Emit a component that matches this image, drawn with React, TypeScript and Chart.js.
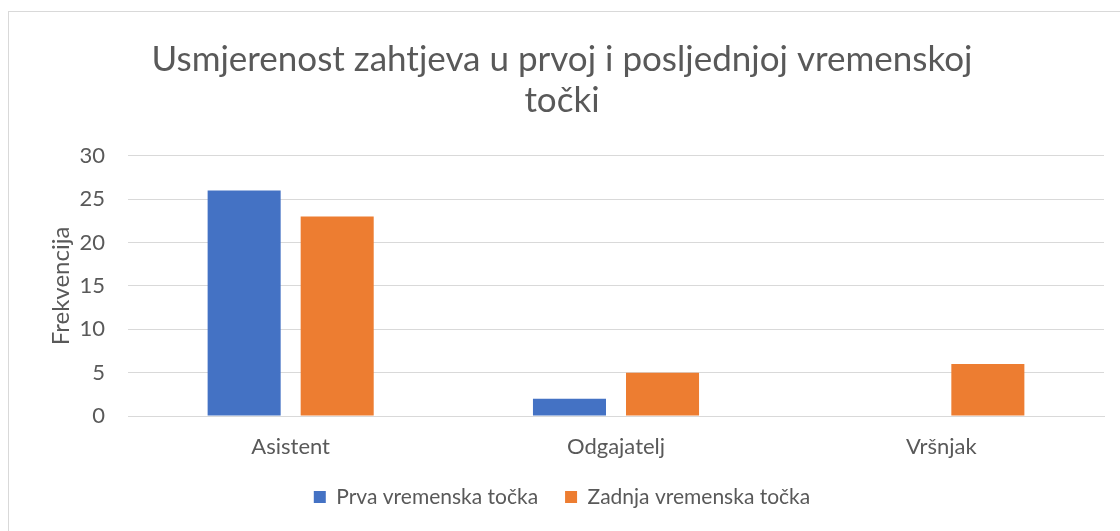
import React, { useEffect, useRef } from "react";
import { Chart, registerables } from "chart.js";

Chart.register(...registerables);

const categories = ["Asistent", "Odgajatelj", "Vršnjak"];
const seriesNames = ["Prva vremenska točka", "Zadnja vremenska točka"];
const prvaValues = [26, 2, 0];
const zadnjaValues = [23, 5, 6];
const titleLines = ["Usmjerenost zahtjeva u prvoj i posljednjoj vremenskoj", "točki"];
const yAxisTitle = "Frekvencija";

const FONT = "Lato, 'Open Sans', sans-serif";
const TEXT = "#595959";

export default function App() {
  const ref = useRef<HTMLCanvasElement | null>(null);

  useEffect(() => {
    if (!ref.current) return;
    const chart = new Chart(ref.current, {
      type: "bar",
      data: {
        labels: categories,
        datasets: [
          {
            label: seriesNames[0],
            data: prvaValues,
            backgroundColor: "#4472C4",
            categoryPercentage: 0.572,
            barPercentage: 0.785,
          },
          {
            label: seriesNames[1],
            data: zadnjaValues,
            backgroundColor: "#ED7D31",
            categoryPercentage: 0.572,
            barPercentage: 0.785,
          },
        ],
      },
      options: {
        animation: false,
        responsive: false,
        maintainAspectRatio: false,
        layout: { padding: { left: 20, right: 36, top: 0, bottom: 13.5 } },
        plugins: {
          title: {
            display: true,
            text: titleLines,
            color: TEXT,
            font: { family: FONT, size: 35, weight: "normal", lineHeight: 1.17 },
            padding: { top: 39, bottom: 35 },
          },
          legend: {
            position: "bottom",
            labels: {
              color: TEXT,
              font: { family: FONT, size: 21 },
              boxWidth: 12,
              boxHeight: 12,
              padding: 27,
            },
          },
          tooltip: { enabled: false },
        },
        scales: {
          x: {
            grid: { display: false, drawTicks: false },
            border: { display: true, color: "#d9d9d9", width: 1 },
            ticks: { color: TEXT, font: { family: FONT, size: 22 }, padding: 18 },
            afterFit: (s: any) => {
              s.height = 43.5;
            },
          },
          y: {
            min: 0,
            max: 30,
            ticks: { stepSize: 5, color: TEXT, font: { family: FONT, size: 22 }, padding: 23 },
            grid: { color: "#d9d9d9", lineWidth: 1, drawTicks: false },
            border: { display: false },
            title: {
              display: true,
              text: yAxisTitle,
              color: TEXT,
              font: { family: FONT, size: 24 },
              padding: { top: 27, bottom: 0 },
            },
            afterFit: (s: any) => {
              s.width = 108;
            },
          },
        },
      },
    });
    return () => chart.destroy();
  }, []);

  return (
    <div style={{ position: "fixed", left: 0, top: 0, width: 1120, height: 531, overflow: "hidden", background: "#fff" }}>
      <div
        style={{
          position: "absolute",
          left: 8,
          top: 11,
          width: 1200,
          height: 600,
          border: "1px solid #d9d9d9",
          boxSizing: "border-box",
        }}
      />
      <canvas ref={ref} width={1140} height={531} style={{ position: "absolute", left: 0, top: 0, width: 1140, height: 531 }} />
    </div>
  );
}
